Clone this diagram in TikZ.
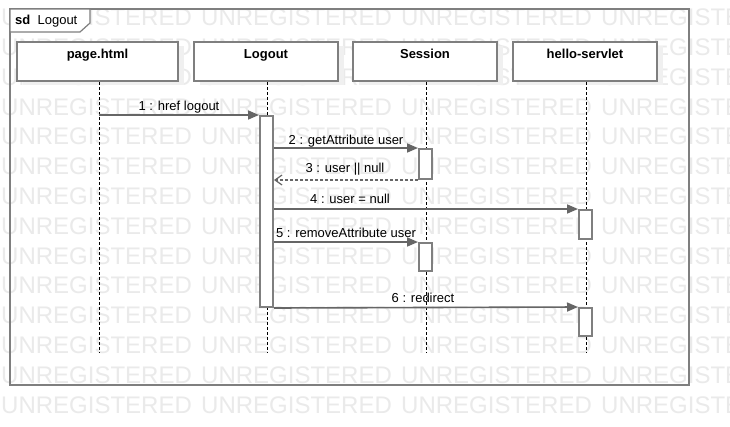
\documentclass[tikz,border=0pt]{standalone}
\usepackage{fontspec}
\setmainfont{Liberation Sans}
\usetikzlibrary{arrows.meta,positioning,shadows}
\definecolor{edge}{HTML}{7F7F7F}
\definecolor{wire}{HTML}{666666}
\definecolor{wmark}{HTML}{EAEAEA}

\begin{document}
\begin{tikzpicture}[x=1pt,y=-1pt,font=\fontsize{13}{15}\selectfont,
  head/.style={draw=edge,line width=2pt,fill=white,minimum width=144pt,minimum height=39pt,inner sep=0pt,
    drop shadow={shadow xshift=6pt,shadow yshift=-4pt,fill=black!6,opacity=1}},
  act/.style={draw=edge,line width=2pt,fill=white,minimum width=13pt,inner sep=0pt,anchor=north},
  life/.style={dash pattern=on 3pt off 2pt,line width=0.9pt},
  call/.style={draw=wire,line width=1.6pt,-{Triangle[length=11pt,width=9pt]}},
  reply/.style={draw=wire,line width=1.2pt,dash pattern=on 3pt off 2pt,-{Straight Barb[length=7pt,width=10pt]}},
  msg/.style={anchor=base,inner sep=0pt}]
\useasboundingbox (0,0) rectangle (730,426);
\fill[white] (0,0) rectangle (730,426);
\begin{scope}
\clip (0,0) rectangle (730,426);
\foreach \r in {0,...,13}
  \foreach \c in {0,...,3}
    \node[wmark,font=\fontsize{24}{24}\selectfont,anchor=base west,inner sep=0pt] at (1+200*\c,25.6+29.8*\r) {UNREGISTERED};
\end{scope}
% frame
\draw[edge,line width=2pt] (10,9) rectangle (689,385);
\draw[edge,line width=1.2pt,fill=white] (10,9) -- (90,9) -- (90,23) -- (80,32) -- (10,32) -- cycle;
\node (sd) [anchor=west,inner sep=0pt] at (15,21) {\textbf{sd}\ \ Logout};
% heads
\node (page) [head,minimum width=161pt] at (97.5,61.5) {};
\node (logout) [head] at (266,61.5) {};
\node (session) [head] at (425,61.5) {};
\node (servlet) [head] at (585,61.5) {};
\foreach \n/\t in {page/page.html,logout/Logout,session/Session,servlet/hello-servlet}
  \node [font=\fontsize{13}{15}\selectfont\bfseries,anchor=base] at ([yshift=-17pt]\n.north) {\t};
% lifelines
\coordinate (pageEnd) at (99,353);
\coordinate (logoutEnd) at (267,353);
\coordinate (sessionEnd) at (426,353);
\coordinate (servletEnd) at (586,353);
\draw[life] (page.south -| pageEnd) -- (pageEnd);
\draw[life] (logout.south -| logoutEnd) -- (logoutEnd);
\draw[life] (session.south -| sessionEnd) -- (sessionEnd);
\draw[life] (servlet.south -| servletEnd) -- (servletEnd);
% activations
\node (a1) [act,minimum height=191pt] at (266.5,115) {};
\node (a2) [act,minimum height=30pt] at (425.5,148) {};
\node (a3) [act,minimum height=29pt] at (585.5,209) {};
\node (a4) [act,minimum height=28pt] at (425.5,242) {};
\node (a5) [act,minimum height=28pt] at (585.5,307) {};
% messages
\draw[call] (a1.north west -| pageEnd) -- (a1.north west);
\node[msg] at (179,110) {1 : href logout};
\draw[call] (a1.east |- a2.north) -- (a2.north west);
\node[msg] at (346,144) {2 : getAttribute user};
\draw[reply] (a2.south west) -- (a1.east |- a2.south);
\node[msg] at (345,172) {3 : user || null};
\draw[call] (a1.east |- a3.north) -- (a3.north west);
\node[msg] at (350,203) {4 : user = null};
\draw[call] (a1.east |- a4.north) -- (a4.north west);
\node[msg] at (346,237) {5 : removeAttribute user};
\draw[call] (a1.south east) -- (a5.north west);
\node[msg] at (423,302) {6 : redirect};
\end{tikzpicture}
\end{document}
